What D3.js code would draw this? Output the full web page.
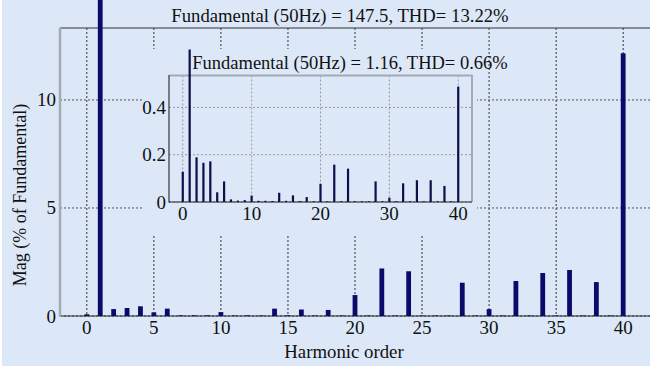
<!DOCTYPE html>
<html><head><meta charset="utf-8">
<script src="https://cdn.jsdelivr.net/npm/d3@7"></script>
<style>
html,body{margin:0;padding:0;background:#fff;}
svg{display:block;font-family:"Liberation Serif","Times New Roman",serif;}
</style></head>
<body><svg id="c" width="650" height="368"></svg>
<script>
// ---- data ----
const harmonics = d3.range(0, 41);
const mainMag = [0.08,100,0.32,0.37,0.45,0.17,0.34,0.03,0.03,0.03,0.18,0.02,0.03,0.02,0.34,0.03,0.30,0.02,0.28,0.02,0.97,0.02,2.20,0.02,2.07,0.02,0.02,0.02,1.54,0.02,0.32,0.02,1.62,0.02,1.99,0.02,2.13,0.02,1.57,0.02,12.16];
const insetMag = [0.128,0.645,0.189,0.166,0.172,0.041,0.087,0.011,0.006,0.008,0.027,0.005,0.005,0.004,0.039,0.005,0.028,0.004,0.021,0.003,0.077,0.003,0.158,0.003,0.141,0.003,0.003,0.003,0.087,0.003,0.018,0.003,0.079,0.003,0.092,0.003,0.092,0.003,0.068,0.003,0.488];
const mainXTicks = [0,5,10,15,20,25,30,35,40];
const mainYTicks = [0,5,10];
const insetXTicks = [0,10,20,30,40];
const insetYTicks = [0,0.2,0.4];
const mainTitle = "Fundamental (50Hz) = 147.5, THD= 13.22%";
const insetTitle = "Fundamental (50Hz) = 1.16, THD= 0.66%";
const xLabel = "Harmonic order";
const yLabel = "Mag (% of Fundamental)";

const bg = "#dce8f8";
const svg = d3.select("#c");
svg.append("rect").attr("x",2).attr("y",0).attr("width",648).attr("height",366).attr("fill",bg);

// main scales
const x = d3.scaleLinear().domain([-2,42]).range([60,650]);
const y = d3.scaleLinear().domain([0,13.33]).range([316,28]);

// main grid
const g = svg.append("g");
g.selectAll(".vg").data(mainXTicks).join("line")
  .attr("x1",d=>x(d)).attr("x2",d=>x(d)).attr("y1",28).attr("y2",316)
  .attr("stroke","#333").attr("stroke-width",1).attr("stroke-dasharray","2,2");
g.selectAll(".hg").data(mainYTicks).join("line")
  .attr("x1",60).attr("x2",650).attr("y1",d=>y(d)).attr("y2",d=>y(d))
  .attr("stroke","#555").attr("stroke-width",1).attr("stroke-dasharray","2,2");

// axes frame
svg.append("line").attr("x1",60).attr("x2",650).attr("y1",28).attr("y2",28).attr("stroke","#333").attr("stroke-width",1.2);
svg.append("line").attr("x1",60).attr("x2",650).attr("y1",316).attr("y2",316).attr("stroke","#222").attr("stroke-width",1);
svg.append("line").attr("x1",60).attr("x2",60).attr("y1",28).attr("y2",317).attr("stroke","#a4aab4").attr("stroke-width",2.5);

// main ticks labels
svg.selectAll(".xt").data(mainXTicks).join("text")
  .attr("x",d=>x(d)).attr("y",334).attr("text-anchor","middle")
  .attr("font-size",19).attr("fill","#111").text(d=>d);
svg.selectAll(".yt").data(mainYTicks).join("text")
  .attr("x",56).attr("y",d=>y(d)+6.5).attr("text-anchor","end")
  .attr("font-size",19).attr("fill","#111").text(d=>d);
svg.append("text").attr("x",344).attr("y",358).attr("text-anchor","middle")
  .attr("font-size",18.8).attr("fill","#111").text(xLabel);
svg.append("text").attr("transform","translate(26,195) rotate(-90)").attr("text-anchor","middle")
  .attr("font-size",18).attr("fill","#111").text(yLabel);

// main bars
svg.selectAll(".mb").data(harmonics).join("rect")
  .attr("x",d=>x(d)-2.4).attr("width",4.8)
  .attr("y",d=>Math.max(-5,y(mainMag[d]))).attr("height",d=>316-Math.max(-5,y(mainMag[d])))
  .attr("fill",d=>d===0?"#10103a":"#0a0a6a");

// main title
svg.append("text").attr("x",340).attr("y",22).attr("text-anchor","middle")
  .attr("font-size",18.7).attr("fill","#111").text(mainTitle);

// ---- inset ----
svg.append("rect").attr("x",142).attr("y",49).attr("width",335).attr("height",185).attr("fill",bg);
const xi = d3.scaleLinear().domain([-2,42]).range([169,472]);
const yi = d3.scaleLinear().domain([0,0.535]).range([202,75.5]);
const gi = svg.append("g");
gi.selectAll(".ivg").data(insetXTicks).join("line")
  .attr("x1",d=>xi(d)).attr("x2",d=>xi(d)).attr("y1",75.5).attr("y2",202)
  .attr("stroke","#999").attr("stroke-width",1).attr("stroke-dasharray","2,2");
gi.selectAll(".ihg").data(insetYTicks).join("line")
  .attr("x1",169).attr("x2",472).attr("y1",d=>yi(d)).attr("y2",d=>yi(d))
  .attr("stroke","#999").attr("stroke-width",1).attr("stroke-dasharray","2,2");
svg.append("line").attr("x1",169).attr("x2",472).attr("y1",75.5).attr("y2",75.5).attr("stroke","#a4aab4").attr("stroke-width",2);
svg.append("line").attr("x1",472).attr("x2",472).attr("y1",75).attr("y2",202).attr("stroke","#a4aab4").attr("stroke-width",2);
svg.append("line").attr("x1",169).attr("x2",169).attr("y1",75).attr("y2",202.5).attr("stroke","#333").attr("stroke-width",1.2);
svg.append("line").attr("x1",169).attr("x2",472).attr("y1",202).attr("y2",202).attr("stroke","#222").attr("stroke-width",1.2);

svg.selectAll(".ixt").data(insetXTicks).join("text")
  .attr("x",d=>xi(d)).attr("y",220).attr("text-anchor","middle")
  .attr("font-size",19).attr("fill","#111").text(d=>d);
svg.selectAll(".iyt").data(insetYTicks).join("text")
  .attr("x",166).attr("y",d=>yi(d)+6.5).attr("text-anchor","end")
  .attr("font-size",19).attr("fill","#111").text(d=>d);

svg.selectAll(".ib").data(harmonics).join("rect")
  .attr("x",d=>xi(d)-1.1).attr("width",2.2)
  .attr("y",d=>yi(insetMag[d])).attr("height",d=>202-yi(insetMag[d]))
  .attr("fill","#0e0e4a");

svg.append("text").attr("x",350).attr("y",69).attr("text-anchor","middle")
  .attr("font-size",18.5).attr("fill","#111").text(insetTitle);
</script></body></html>
